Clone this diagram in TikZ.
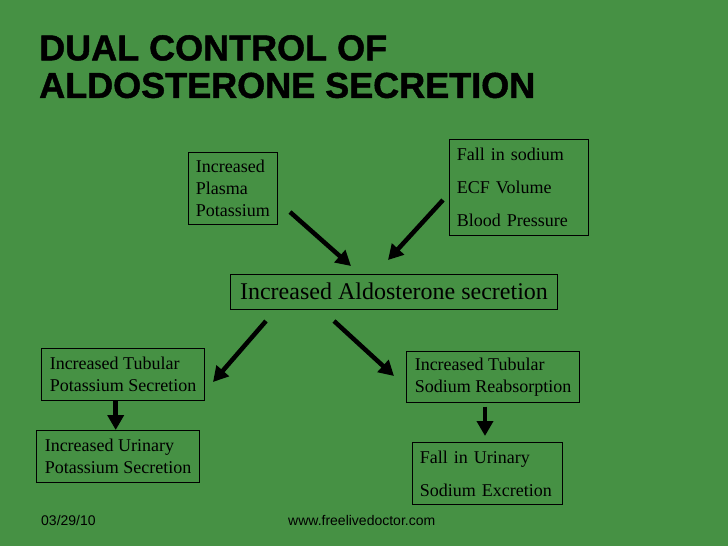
\documentclass[tikz,border=0pt]{standalone}
\usepackage{fontspec}
\setmainfont{Liberation Serif}
\setsansfont{Liberation Sans}
\newfontfamily\titlefont{Liberation Sans}[FakeBold=1.2]
\usetikzlibrary{arrows.meta}
\usetikzlibrary{backgrounds}
\definecolor{slidegreen}{RGB}{70,145,68}
\tikzset{box/.style={draw=black, line width=1pt, align=left, inner xsep=7.5pt, inner ysep=0pt, font=\fontsize{18}{22}\selectfont},
	bigarrow/.style={line width=4.5pt, -{Triangle[length=15pt,width=16pt]}}}

\begin{document}
\begin{tikzpicture}[x=1pt,y=-1pt]
	\fill[slidegreen] (0,0) rectangle (728,546);
	\node[anchor=north west, inner sep=0pt, align=left, font=\titlefont\bfseries\fontsize{36}{37.5}\selectfont] (title) at (39,35) {DUAL CONTROL OF\\ALDOSTERONE SECRETION};

	\node[box, minimum width=89pt, minimum height=72.6pt] (kplasma) at (232.8,188.5) {Increased\\Plasma\\Potassium};
	\node[box, text width=124pt, minimum height=96pt, font=\fontsize{18}{33}\selectfont] (fall) at (518.8,187.3) {Fall in sodium\\ECF Volume\\Blood Pressure};
	\node[box, minimum width=326.6pt, minimum height=35.3pt, font=\fontsize{24}{28}\selectfont] (aldo) at (394,291.7) {Increased Aldosterone secretion};
	\node[box, minimum width=162.6pt, minimum height=52.4pt] (ktub) at (123,374.5) {Increased Tubular\\Potassium Secretion};
	\node[box, minimum width=162.6pt, minimum height=52.3pt] (kuri) at (118,456.2) {Increased Urinary\\Potassium Secretion};
	\node[box, minimum width=172.6pt, minimum height=50.6pt] (natub) at (493,377) {Increased Tubular\\Sodium Reabsorption};
	\node[box, text width=135.4pt, minimum height=62.3pt, font=\fontsize{18}{33}\selectfont] (naexc) at (487.5,473.8) {Fall in Urinary\\Sodium Excretion};

	% arrow ends
	\coordinate (pa) at (290,212);  \coordinate (pb) at (351,266);
	\coordinate (pc) at (443,200);  \coordinate (pd) at (388,260);
	\coordinate (pe) at (266,321);  \coordinate (pf) at (213,382);
	\coordinate (pg) at (334,321);  \coordinate (ph) at (394,376);
	\coordinate (pi) at (115.7,400.7); \coordinate (pj) at (115.7,430);
	\coordinate (pk) at (485,406.7); \coordinate (pl) at (485,436);
	\draw[bigarrow] (pa) -- (pb);
	\draw[bigarrow] (pc) -- (pd);
	\draw[bigarrow] (pe) -- (pf);
	\draw[bigarrow] (pg) -- (ph);
	\draw[bigarrow] (pi) -- (pj);
	\draw[bigarrow] (pk) -- (pl);

	\node[anchor=base west, inner sep=0pt, font=\sffamily\fontsize{14}{16}\selectfont] (date) at (41,525) {03/29/10};
	\node[anchor=base west, inner sep=0pt, font=\sffamily\fontsize{14}{16}\selectfont] (site) at (288,525) {www.freelivedoctor.com};
\end{tikzpicture}
\end{document}
